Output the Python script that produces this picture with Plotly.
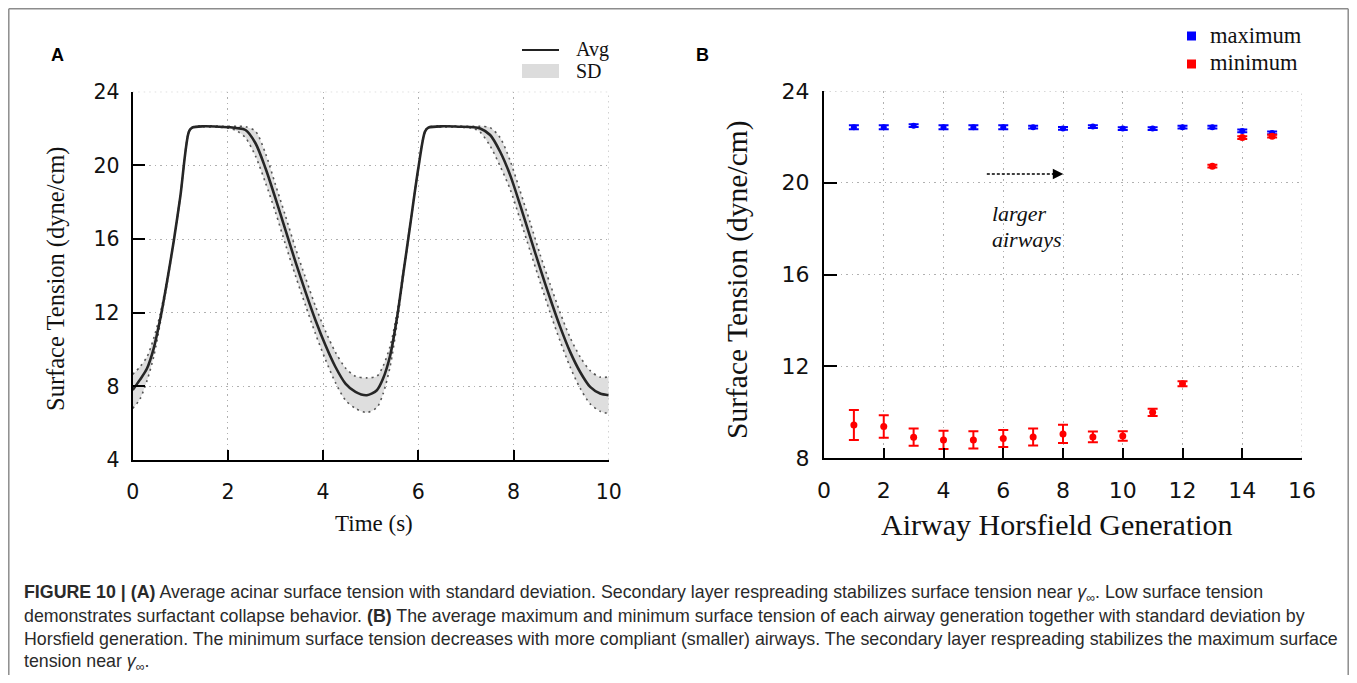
import plotly.graph_objects as go

W, H = 1357, 683
OFF = 8  # the page body places the figure 8 px from the window's top-left corner
FW, FH = W - 2 * OFF, H - 2 * OFF  # keep the figure inside the window

# ---------------- Panel A data ----------------
time_s = [0.00, 0.15, 0.30, 0.44, 0.58, 0.72, 0.86, 1.00, 1.18, 1.25, 1.49, 1.80, 2.05, 2.20,
          2.37, 2.58, 2.79, 3.00, 3.21, 3.42, 3.63, 3.84, 4.05, 4.26, 4.47, 4.68, 4.92, 5.13,
          5.26, 5.41, 5.55, 5.69, 5.83, 6.00, 6.14, 6.21, 6.53, 6.85, 7.16, 7.30, 7.51, 7.72,
          7.93, 8.14, 8.35, 8.56, 8.77, 8.98, 9.19, 9.40, 9.61, 9.82, 10.00]
avg = [7.80, 8.35, 8.97, 10.05, 11.68, 13.67, 15.85, 18.30, 21.83, 22.05, 22.12, 22.10, 22.07, 22.02,
       21.92, 21.20, 19.84, 18.20, 16.48, 14.76, 13.13, 11.59, 10.23, 9.05, 8.15, 7.70, 7.52, 7.79,
       8.42, 9.69, 11.68, 14.22, 16.76, 19.84, 21.83, 22.05, 22.12, 22.10, 22.07, 22.00, 21.65, 20.74,
       19.47, 17.84, 16.12, 14.40, 12.77, 11.23, 9.87, 8.78, 7.97, 7.61, 7.52]
sd_low = [6.80, 7.30, 8.30, 9.60, 11.45, 13.55, 15.80, 18.27, 21.80, 22.02, 22.09, 22.07, 22.00, 21.85,
          21.50, 20.50, 19.05, 17.45, 15.70, 14.00, 12.40, 10.85, 9.45, 8.20, 7.25, 6.80, 6.58, 6.85,
          7.60, 9.10, 11.35, 14.10, 16.72, 19.82, 21.80, 22.02, 22.09, 22.07, 22.00, 21.80, 21.05, 19.95,
          18.70, 17.05, 15.35, 13.65, 12.00, 10.45, 9.05, 7.90, 7.05, 6.65, 6.52]
sd_high = [8.65, 9.05, 9.60, 10.60, 11.95, 13.80, 15.90, 18.33, 21.86, 22.08, 22.15, 22.13, 22.12, 22.12,
           22.10, 21.85, 20.65, 18.95, 17.25, 15.50, 13.90, 12.35, 11.00, 9.85, 9.00, 8.55, 8.46, 8.55,
           9.10, 10.20, 11.95, 14.35, 16.80, 19.86, 21.86, 22.08, 22.15, 22.13, 22.12, 22.12, 22.05, 21.50,
           20.25, 18.60, 16.90, 15.15, 13.55, 12.00, 10.65, 9.60, 8.85, 8.50, 8.51]

# ---------------- Panel B data ----------------
generation = [1, 2, 3, 4, 5, 6, 7, 8, 9, 10, 11, 12, 13, 14, 15]
max_tension = [22.42, 22.42, 22.49, 22.42, 22.42, 22.42, 22.42, 22.37, 22.45, 22.36, 22.36, 22.42, 22.42, 22.26, 22.17]
max_sd = [0.09, 0.09, 0.06, 0.09, 0.09, 0.09, 0.06, 0.06, 0.06, 0.06, 0.06, 0.06, 0.06, 0.06, 0.06]
min_tension = [9.44, 9.37, 8.91, 8.79, 8.79, 8.85, 8.92, 9.05, 8.92, 8.96, 9.99, 11.24, 20.72, 21.97, 22.03]
min_sd = [0.65, 0.49, 0.38, 0.40, 0.38, 0.37, 0.37, 0.40, 0.23, 0.21, 0.16, 0.11, 0.06, 0.06, 0.06]

a_yticks = [4, 8, 12, 16, 20, 24]
a_xticks = [0, 2, 4, 6, 8, 10]
b_yticks = [8, 12, 16, 20, 24]
b_xticks = [0, 2, 4, 6, 8, 10, 12, 14, 16]


def px(x):
    return (x - OFF) / FW


def py(y):
    return 1 - (y - OFF) / FH


SERIF = "Liberation Serif, Times New Roman, serif"
TICKFONT = "DejaVu Sans, Verdana, sans-serif"
ARIAL = "Liberation Sans, Arial, sans-serif"

fig = go.Figure()

# SD band
fig.add_trace(go.Scatter(x=time_s, y=sd_low, mode="lines", xaxis="x", yaxis="y",
                         line=dict(color="#555555", width=1.6, dash="2px,4px", shape="spline", smoothing=0.8),
                         showlegend=False, hoverinfo="skip"))
fig.add_trace(go.Scatter(x=time_s, y=sd_high, mode="lines", xaxis="x", yaxis="y", fill="tonexty",
                         fillcolor="#dedede",
                         line=dict(color="#555555", width=1.6, dash="2px,4px", shape="spline", smoothing=0.8),
                         showlegend=False, hoverinfo="skip"))
fig.add_trace(go.Scatter(x=time_s, y=avg, mode="lines", xaxis="x", yaxis="y",
                         line=dict(color="#262626", width=2.6, shape="spline", smoothing=0.8),
                         showlegend=False))

# Panel B points
fig.add_trace(go.Scatter(x=generation, y=max_tension, mode="markers", xaxis="x2", yaxis="y2",
                         marker=dict(color="#0000ff", size=6, symbol="circle"),
                         error_y=dict(type="data", array=max_sd, color="#0000ff", thickness=2, width=5),
                         showlegend=False))
fig.add_trace(go.Scatter(x=generation, y=min_tension, mode="markers", xaxis="x2", yaxis="y2",
                         marker=dict(color="#ff0000", size=7, symbol="circle"),
                         error_y=dict(type="data", array=min_sd, color="#ff0000", thickness=2, width=5),
                         showlegend=False))

grid_kw = dict(showgrid=True, gridcolor="#b0b0b0", gridwidth=1, griddash="1.5px,4px",
               showline=True, linecolor="#000000", linewidth=2, ticks="inside",
               tickcolor="#000000", tickwidth=2, zeroline=False, mirror=False, automargin=False)

fig.update_layout(
    width=FW, height=FH,
    margin=dict(l=0, r=0, t=0, b=0, pad=0, autoexpand=False),
    paper_bgcolor="white", plot_bgcolor="white",
    showlegend=False,
    xaxis=dict(domain=[px(132.7), px(608.7)], range=[0, 10], tickvals=a_xticks, ticklen=10,
               tickfont=dict(family=TICKFONT, size=20.5, color="#111"), ticklabelstandoff=12,
               anchor="y", **grid_kw),
    yaxis=dict(domain=[py(460), py(91.7)], range=[4, 24], tickvals=a_yticks, ticklen=12,
               tickfont=dict(family=TICKFONT, size=20.5, color="#111"), ticklabelstandoff=7,
               anchor="x", **grid_kw),
    xaxis2=dict(domain=[px(824), px(1302)], range=[0, 16], tickvals=b_xticks, ticklen=10,
                tickfont=dict(family=TICKFONT, size=22, color="#111"), ticklabelstandoff=12,
                anchor="y2", **grid_kw),
    yaxis2=dict(domain=[py(458), py(91)], range=[8, 24], tickvals=b_yticks, ticklen=13,
                tickfont=dict(family=TICKFONT, size=22, color="#111"), ticklabelstandoff=8,
                anchor="x2", **grid_kw),
)

shapes = []
# outer frame (left, top, right edges)
frame = dict(color="#8c8c8c", width=1.5)
shapes.append(dict(type="line", xref="paper", yref="paper", x0=px(8.8), x1=px(8.8), y0=py(675), y1=py(8.8), line=frame))
shapes.append(dict(type="line", xref="paper", yref="paper", x0=px(8.8), x1=px(1348.2), y0=py(8.8), y1=py(8.8), line=frame))
shapes.append(dict(type="line", xref="paper", yref="paper", x0=px(1348.2), x1=px(1348.2), y0=py(675), y1=py(8.8), line=frame))
# top / right dotted grid lines at range ends
shapes.append(dict(type="line", xref="x domain", yref="y", x0=0, x1=1, y0=24, y1=24,
                   line=dict(color="#b0b0b0", width=1, dash="1.5px,4px")))
shapes.append(dict(type="line", xref="x", yref="y domain", x0=10, x1=10, y0=0, y1=1,
                   line=dict(color="#b0b0b0", width=1, dash="1.5px,4px")))
shapes.append(dict(type="line", xref="x2 domain", yref="y2", x0=0, x1=1, y0=24, y1=24,
                   line=dict(color="#b0b0b0", width=1, dash="1.5px,4px")))
shapes.append(dict(type="line", xref="x2", yref="y2 domain", x0=16, x1=16, y0=0, y1=1,
                   line=dict(color="#b0b0b0", width=1, dash="1.5px,4px")))
# legend A
shapes.append(dict(type="line", xref="paper", yref="paper", x0=px(522), x1=px(559), y0=py(50), y1=py(50),
                   line=dict(color="#222", width=2)))
shapes.append(dict(type="rect", xref="paper", yref="paper", x0=px(522), x1=px(559), y0=py(78), y1=py(64),
                   line=dict(width=0), fillcolor="#dcdcdc"))
# legend B
shapes.append(dict(type="rect", xref="paper", yref="paper", x0=px(1187), x1=px(1196), y0=py(40.5), y1=py(31.5),
                   line=dict(width=0), fillcolor="#0000ff"))
shapes.append(dict(type="rect", xref="paper", yref="paper", x0=px(1187), x1=px(1196), y0=py(68.5), y1=py(59.5),
                   line=dict(width=0), fillcolor="#ff0000"))
# dashed arrow shaft in panel B
shapes.append(dict(type="line", xref="x2", yref="y2", x0=5.45, x1=7.75, y0=20.38, y1=20.38,
                   line=dict(color="#000", width=1.5, dash="3px,2px")))
fig.update_layout(shapes=shapes)

ann = []


def text(x, y, s, size, family=SERIF, xanchor="center", yanchor="middle", angle=0, color="#111"):
    ann.append(dict(x=px(x), y=py(y), xref="paper", yref="paper", text=s, showarrow=False,
                    xanchor=xanchor, yanchor=yanchor, textangle=angle,
                    font=dict(family=family, size=size, color=color)))


text(57, 55, "<b>A</b>", 18, ARIAL, color="#000")
text(702, 55, "<b>B</b>", 18, ARIAL, color="#000")
text(56, 279, "Surface Tension (dyne/cm)", 24.5, angle=-90)
text(374, 523, "Time (s)", 23)
text(737, 280, "Surface Tension (dyne/cm)", 29.5, angle=-90)
text(1057, 524, "Airway Horsfield Generation", 30)
text(574, 49, "Avg", 20, xanchor="left")
text(574, 71, "SD", 20, xanchor="left")
text(1208, 35, "maximum", 22.5, xanchor="left")
text(1208, 62, "minimum", 22.5, xanchor="left")
text(990, 213, "<i>larger</i>", 22, xanchor="left")
text(990, 239, "<i>airways</i>", 22, xanchor="left")

# arrow head
ann.append(dict(x=8.01, y=20.38, xref="x2", yref="y2", ax=7.6, ay=20.38, axref="x2", ayref="y2",
                showarrow=True, arrowhead=2, arrowsize=1.4, arrowwidth=1.5, arrowcolor="#000", text=""))

gamma = "<i>γ</i><sub>∞</sub>"
cap_lines = [
    "<b>FIGURE 10 | (A)</b> Average acinar surface tension with standard deviation. Secondary layer respreading stabilizes surface tension near " + gamma + ". Low surface tension",
    "demonstrates surfactant collapse behavior. <b>(B)</b> The average maximum and minimum surface tension of each airway generation together with standard deviation by",
    "Horsfield generation. The minimum surface tension decreases with more compliant (smaller) airways. The secondary layer respreading stabilizes the maximum surface",
    "tension near " + gamma + ".",
]
cap_y = [593, 616, 639, 662]
for s, yy in zip(cap_lines, cap_y):
    text(22, yy, s, 17.8, ARIAL, xanchor="left", color="#2a2a2a")

fig.update_layout(annotations=ann)

fig.write_html("out.html")
